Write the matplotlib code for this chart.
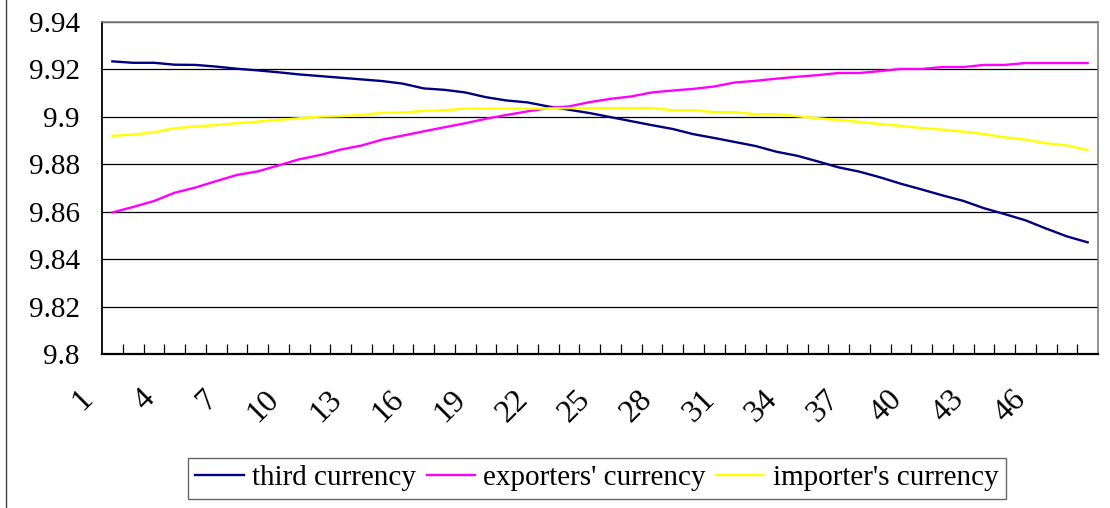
import matplotlib
matplotlib.use("Agg")
import matplotlib.pyplot as plt
import matplotlib.transforms as mtransforms
from matplotlib.lines import Line2D

# Data (48 periods)
periods = list(range(1, 49))
third_currency = [
    9.9234, 9.9228, 9.9228, 9.9220, 9.9219, 9.9212, 9.9203, 9.9196, 9.9188, 9.9179,
    9.9172, 9.9165, 9.9158, 9.9151, 9.9140, 9.9120, 9.9114, 9.9103, 9.9083, 9.9069,
    9.9061, 9.9044, 9.9030, 9.9016, 9.8999, 9.8982, 9.8965, 9.8949, 9.8927, 9.8911,
    9.8894, 9.8877, 9.8853, 9.8836, 9.8812, 9.8787, 9.8769, 9.8745, 9.8718, 9.8694,
    9.8669, 9.8646, 9.8615, 9.8590, 9.8564, 9.8529, 9.8496, 9.8471,
]
exporters_currency = [
    9.8597, 9.8620, 9.8645, 9.8680, 9.8702, 9.8729, 9.8755, 9.8770, 9.8795, 9.8821,
    9.8839, 9.8862, 9.8879, 9.8904, 9.8921, 9.8939, 9.8956, 9.8973, 9.8992, 9.9008,
    9.9023, 9.9037, 9.9044, 9.9062, 9.9076, 9.9086, 9.9103, 9.9111, 9.9118, 9.9128,
    9.9145, 9.9152, 9.9161, 9.9169, 9.9176, 9.9185, 9.9185, 9.9193, 9.9202, 9.9202,
    9.9210, 9.9210, 9.9219, 9.9219, 9.9227, 9.9227, 9.9227, 9.9227,
]
importers_currency = [
    9.8920, 9.8925, 9.8935, 9.8952, 9.8959, 9.8966, 9.8973, 9.8980, 9.8987, 9.8994,
    9.9001, 9.9003, 9.9008, 9.9017, 9.9018, 9.9025, 9.9028, 9.9035, 9.9035, 9.9035,
    9.9035, 9.9035, 9.9037, 9.9037, 9.9037, 9.9037, 9.9037, 9.9028, 9.9028, 9.9020,
    9.9020, 9.9011, 9.9011, 9.9003, 9.8994, 9.8987, 9.8979, 9.8970, 9.8962, 9.8953,
    9.8946, 9.8938, 9.8928, 9.8914, 9.8904, 9.8889, 9.8880, 9.8860,
]
x_labels = [1, 4, 7, 10, 13, 16, 19, 22, 25, 28, 31, 34, 37, 40, 43, 46]
y_ticks = [9.80, 9.82, 9.84, 9.86, 9.88, 9.90, 9.92, 9.94]
y_labels = ["9.8", "9.82", "9.84", "9.86", "9.88", "9.9", "9.92", "9.94"]

plt.rcParams["font.family"] = ["Liberation Serif", "DejaVu Serif"]

fig = plt.figure(figsize=(11.1, 5.08), dpi=100)
ax = fig.add_axes([0.0919, 0.3031, 0.8973, 0.6536])

ax.plot(periods, third_currency, color="#000080", linewidth=1.7, label="third currency")
ax.plot(periods, exporters_currency, color="#FF00FF", linewidth=1.7, label="exporters' currency")
ax.plot(periods, importers_currency, color="#FFFF00", linewidth=1.7, label="importer's currency")

ax.set_xlim(0.5, 48.5)
ax.set_ylim(9.8, 9.94)

# y axis
ax.set_yticks(y_ticks)
ax.set_yticklabels(y_labels, fontsize=21)
ax.tick_params(axis="y", length=0, pad=16)
ax.yaxis.grid(True, color="black", linewidth=0.9)
ax.set_axisbelow(True)

# x axis: labels every third period, small inward marks between periods
ax.set_xticks(x_labels)
ax.set_xticklabels([str(v) for v in x_labels], fontsize=23, rotation=45,
                   ha="right", va="top")
ax.set_xticks([p + 0.5 for p in periods[:-1]], minor=True)
ax.tick_params(axis="x", which="major", length=0, pad=22)
ax.tick_params(axis="x", which="minor", direction="in", length=7.5, width=0.9,
               color="black")
shift = mtransforms.ScaledTranslation(-14 / 100, 0, fig.dpi_scale_trans)
for lbl in ax.get_xticklabels():
    lbl.set_transform(lbl.get_transform() + shift)

ax.spines["left"].set_color("black")
ax.spines["bottom"].set_color("black")
ax.spines["left"].set_linewidth(1.3)
ax.spines["bottom"].set_linewidth(1.6)
ax.spines["top"].set_color("#808080")
ax.spines["right"].set_color("#808080")
ax.spines["top"].set_linewidth(1.2)
ax.spines["right"].set_linewidth(1.2)

leg = fig.legend(loc="center", bbox_to_anchor=(0.538, 0.059), ncol=3,
                 fontsize=21, frameon=True, fancybox=False, handlelength=1.65,
                 handletextpad=0.3, columnspacing=0.35, borderpad=0.25,
                 borderaxespad=0)
leg.get_frame().set_edgecolor("#404040")
leg.get_frame().set_linewidth(1.0)

# left edge of the chart area border
fig.add_artist(Line2D([5.5 / 1110, 5.5 / 1110], [0, 1], transform=fig.transFigure,
                      color="#404040", linewidth=1.0))

fig.savefig("out.png", dpi=100)
